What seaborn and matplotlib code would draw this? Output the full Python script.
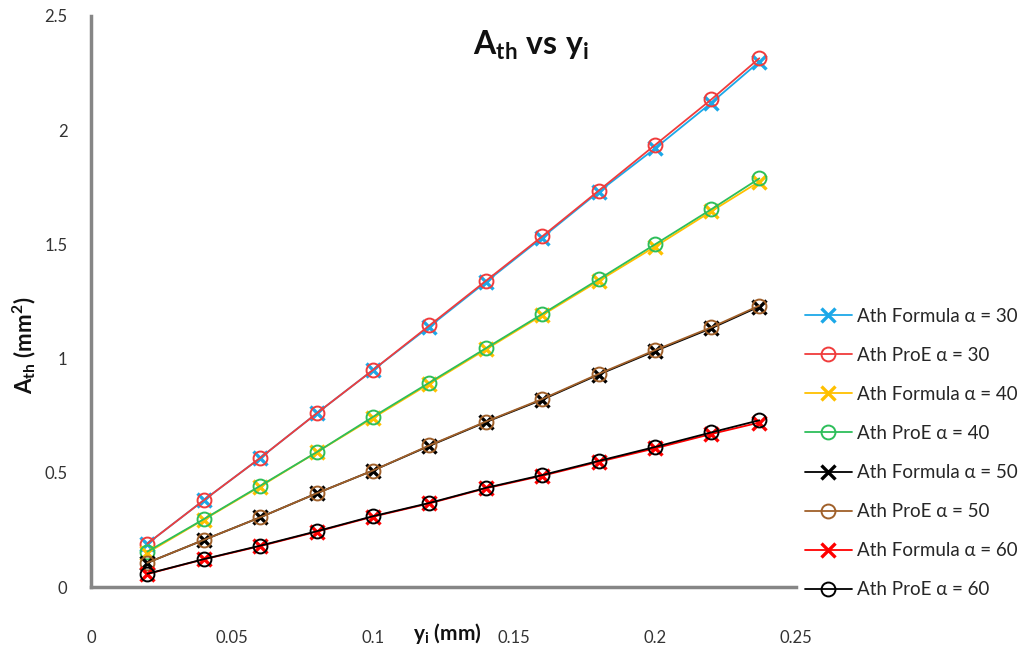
import matplotlib
matplotlib.use("Agg")
import matplotlib.pyplot as plt
import seaborn as sns
import pandas as pd

yi = [0.02, 0.04, 0.06, 0.08, 0.10, 0.12, 0.14, 0.16, 0.18, 0.20, 0.22, 0.237]

formula_30 = [0.19, 0.38, 0.565, 0.76, 0.95, 1.14, 1.335, 1.53, 1.73, 1.92, 2.12, 2.30]
proe_30    = [0.19, 0.38, 0.565, 0.76, 0.95, 1.145, 1.34, 1.535, 1.735, 1.935, 2.135, 2.315]
formula_40 = [0.15, 0.295, 0.44, 0.59, 0.74, 0.89, 1.04, 1.19, 1.34, 1.49, 1.645, 1.775]
proe_40    = [0.155, 0.297, 0.443, 0.59, 0.745, 0.895, 1.045, 1.195, 1.347, 1.50, 1.654, 1.789]
formula_50 = [0.106, 0.206, 0.305, 0.41, 0.51, 0.618, 0.722, 0.82, 0.93, 1.033, 1.133, 1.228]
proe_50    = [0.106, 0.206, 0.305, 0.41, 0.51, 0.62, 0.724, 0.823, 0.933, 1.037, 1.137, 1.232]
formula_60 = [0.057, 0.121, 0.179, 0.242, 0.308, 0.366, 0.432, 0.487, 0.548, 0.607, 0.67, 0.72]
proe_60    = [0.058, 0.122, 0.181, 0.244, 0.31, 0.368, 0.434, 0.49, 0.552, 0.613, 0.677, 0.73]

labels = ["Ath Formula α = 30", "Ath ProE α = 30", "Ath Formula α = 40", "Ath ProE α = 40",
          "Ath Formula α = 50", "Ath ProE α = 50", "Ath Formula α = 60", "Ath ProE α = 60"]
series = [formula_30, proe_30, formula_40, proe_40, formula_50, proe_50, formula_60, proe_60]
colors = ["#1CA8E8", "#F03C3C", "#FFC000", "#2DBE5A", "#000000", "#A0602A", "#FF0000", "#000000"]
markers = ["x", "o", "x", "o", "x", "o", "x", "o"]

sns.set_style("white")
plt.rcParams["font.family"] = ["Lato", "DejaVu Sans"]
plt.rcParams["mathtext.fontset"] = "custom"
plt.rcParams["mathtext.rm"] = "Lato"
plt.rcParams["mathtext.bf"] = "Lato:bold"
plt.rcParams["mathtext.it"] = "Lato:italic"

fig = plt.figure(figsize=(10.23, 6.48), dpi=100)
ax = fig.add_axes([91/1023, 1-587/648, (796-91)/1023, (587-16)/648])

for lab, vals, c, m in zip(labels, series, colors, markers):
    df = pd.DataFrame({"yi": yi, "Ath": vals})
    if m == "x":
        sns.lineplot(data=df, x="yi", y="Ath", ax=ax, color=c, marker="x", markersize=10,
                     markeredgecolor=c, markerfacecolor=c,
                     markeredgewidth=2.4, linewidth=1.3, label=lab)
    else:
        sns.lineplot(data=df, x="yi", y="Ath", ax=ax, color=c, marker="o", markersize=10,
                     markerfacecolor="none", markeredgecolor=c, markeredgewidth=1.4,
                     linewidth=1.3, label=lab)

ax.set_xlim(0, 0.25)
ax.set_ylim(0, 2.5)
ax.set_xticks([0, 0.05, 0.1, 0.15, 0.2, 0.25])
ax.set_xticklabels(["0", "0.05", "0.1", "0.15", "0.2", "0.25"])
ax.set_yticks([0, 0.5, 1, 1.5, 2, 2.5])
ax.set_yticklabels(["0", "0.5", "1", "1.5", "2", "2.5"])
ax.set_xlabel("")
ax.set_ylabel("")

for s in ["top", "right"]:
    ax.spines[s].set_visible(False)
for s in ["left", "bottom"]:
    ax.spines[s].set_color("#868686")
    ax.spines[s].set_linewidth(2.5)
ax.tick_params(axis="x", direction="out", length=5, width=2, color="#868686",
               labelsize=12, labelcolor="#333333", pad=26)
ax.tick_params(axis="y", direction="out", length=5, width=2, color="#868686",
               labelsize=12, labelcolor="#333333", pad=12)
ax.grid(False)

ax.legend_.remove()
handles, labs = ax.get_legend_handles_labels()
fig.legend(handles, labs, loc="center left", bbox_to_anchor=(805/1023, 1-453/648),
           frameon=False, fontsize=13.5, handlelength=2.5, handletextpad=0.25,
           labelspacing=1.18, borderpad=0, borderaxespad=0)

fig.text(531/1023, 1-45/648, r"$\mathbf{A_{th}\ vs\ y_{i}}$", fontsize=23,
         ha="center", va="center", color="#111111")
fig.text(447/1023, 1-633/648, r"$\mathbf{y_{i}\ (mm)}$", fontsize=15,
         ha="center", va="center", color="#111111")
fig.text(24/1023, 1-345/648, r"$\mathbf{A_{th}\ (mm^{2})}$", fontsize=16,
         ha="center", va="center", rotation=90, color="#111111")

fig.savefig("out.png", dpi=100, facecolor="white")
